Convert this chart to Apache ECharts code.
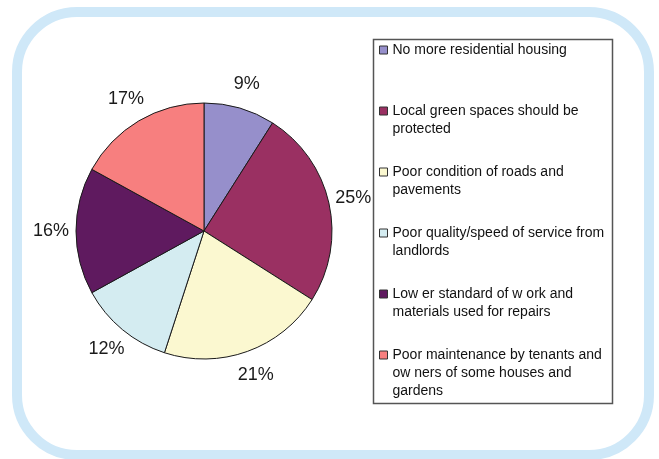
<!DOCTYPE html>
<html><head><meta charset="utf-8">
<script src="https://cdn.jsdelivr.net/npm/echarts@6/dist/echarts.min.js"></script>
<style>html,body{margin:0;padding:0;background:#fff}#c{width:659px;height:459px}</style>
</head><body><div id="c"></div>
<script>
const categories = [
  'No more residential housing',
  'Local green spaces should be\nprotected',
  'Poor condition of roads and\npavements',
  'Poor quality/speed of service from\nlandlords',
  'Low er standard of w ork and\nmaterials used for repairs',
  'Poor maintenance by tenants and\now ners of some houses and\ngardens'
];
const values = [9, 25, 21, 12, 16, 17];
const colors = ['#968fcb', '#9a3062', '#fbf8d0', '#d4ecf1', '#5f1a5f', '#f77f7f'];

const chart = echarts.init(document.getElementById('c'), null, {renderer: 'canvas'});
const lineH = 18;
const legends = categories.map((name, i) => {
  const lines = name.split('\n').length;
  const c = 50 + 61 * i;
  const total = 2 * lines - 1;
  return {
    data: [name],
    orient: 'vertical',
    left: 379,
    top: c - total * lineH / 2,
    padding: 0,
    itemWidth: 8,
    itemHeight: 8,
    itemGap: 0,
    selectedMode: false,
    icon: 'rect',
    itemStyle: {borderColor: '#333', borderWidth: 1},
    formatter: n => '\n'.repeat(lines - 1) + n,
    textStyle: {
      fontFamily: 'Liberation Sans, Arial, sans-serif',
      fontSize: 14,
      color: '#111',
      lineHeight: lineH
    }
  };
});

const CX = 204, CY = 231, R = 128, LABEL_R = 153;
const total = values.reduce((a, b) => a + b, 0);

chart.setOption({
  backgroundColor: '#fff',
  animation: false,
  color: colors,
  graphic: [
    {type: 'rect', shape: {x: 17, y: 12, width: 632, height: 443, r: 60},
     style: {fill: 'none', stroke: '#cfe8f8', lineWidth: 10}, z: 0},
    {type: 'rect', shape: {x: 373.5, y: 39.5, width: 239, height: 364},
     style: {fill: '#fff', stroke: '#555', lineWidth: 1.5}, z: 0}
  ],
  legend: legends,
  series: [{
    type: 'pie',
    center: [CX, CY],
    radius: R,
    startAngle: 90,
    clockwise: true,
    z: 5,
    itemStyle: {borderColor: '#1a1a1a', borderWidth: 1},
    emphasis: {disabled: true},
    label: {
      show: true,
      position: 'outside',
      formatter: p => p.value + '%',
      fontFamily: 'Liberation Sans, Arial, sans-serif',
      fontSize: 18,
      color: '#1a1a1a'
    },
    labelLine: {show: false, length: 8, length2: 0},
    labelLayout: function (params) {
      let mid;
      try {
        const lay = chart.getModel().getSeriesByIndex(0).getData().getItemLayout(params.dataIndex);
        mid = (lay.startAngle + lay.endAngle) / 2;
      } catch (e) {
        let before = 0;
        for (let k = 0; k < params.dataIndex; k++) before += values[k];
        const frac = (before + values[params.dataIndex] / 2) / total;
        mid = -Math.PI / 2 + frac * 2 * Math.PI;
      }
      return {
        x: CX + Math.cos(mid) * LABEL_R,
        y: CY + Math.sin(mid) * LABEL_R,
        align: 'center',
        verticalAlign: 'middle'
      };
    },
    data: categories.map((n, i) => ({name: n, value: values[i]}))
  }]
});
</script></body></html>
